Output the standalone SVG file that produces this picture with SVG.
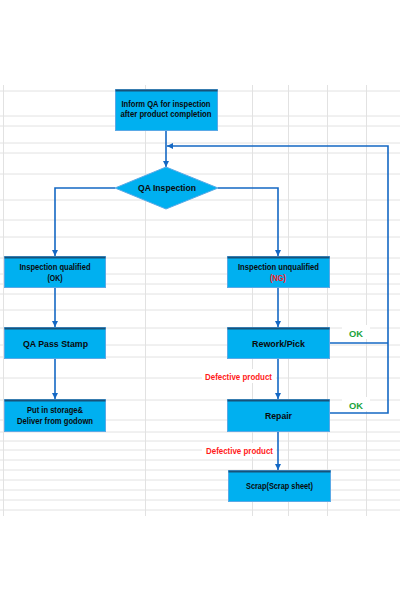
<svg xmlns="http://www.w3.org/2000/svg" width="400" height="600" viewBox="0 0 400 600">
<style>
.grid line{stroke:#e2e2e2;stroke-width:1}
.box{fill:#00b0f0;stroke:#5aa9e6;stroke-width:1}
.stripe{fill:#17527a}
.t{font-family:"Liberation Sans",Arial,sans-serif;font-size:8.5px;font-weight:bold;fill:#0a0a0a;text-anchor:middle}
.red{fill:#ff1a1a}
.green{fill:#1aa33a;font-size:9.5px}
.conn path{fill:none;stroke:#1468c4;stroke-width:1.6}
.mask{fill:#ffffff}
</style>
<defs>
<marker id="ah" markerUnits="userSpaceOnUse" markerWidth="6" markerHeight="6" viewBox="0 0 6 6" refX="6" refY="3" orient="auto">
<path d="M0,0 L6,3 L0,6 Z" fill="#1468c4"/>
</marker>
</defs>
<rect width="400" height="600" fill="#ffffff"/>
<g class="grid">
<line x1="0" y1="91" x2="400" y2="91"/><line x1="0" y1="116" x2="400" y2="116"/><line x1="0" y1="126" x2="400" y2="126"/>
<line x1="0" y1="143" x2="400" y2="143"/><line x1="0" y1="153" x2="400" y2="153"/><line x1="0" y1="174" x2="400" y2="174"/>
<line x1="0" y1="200" x2="400" y2="200"/><line x1="0" y1="220" x2="400" y2="220"/><line x1="0" y1="237" x2="400" y2="237"/>
<line x1="0" y1="258" x2="400" y2="258"/><line x1="0" y1="274" x2="400" y2="274"/><line x1="0" y1="284" x2="400" y2="284"/>
<line x1="0" y1="294" x2="400" y2="294"/><line x1="0" y1="310" x2="400" y2="310"/><line x1="0" y1="328" x2="400" y2="328"/>
<line x1="0" y1="345" x2="400" y2="345"/><line x1="0" y1="357" x2="400" y2="357"/><line x1="0" y1="378" x2="400" y2="378"/>
<line x1="0" y1="400" x2="400" y2="400"/><line x1="0" y1="420" x2="400" y2="420"/><line x1="0" y1="432" x2="400" y2="432"/>
<line x1="0" y1="441" x2="400" y2="441"/><line x1="0" y1="450" x2="400" y2="450"/><line x1="0" y1="460" x2="400" y2="460"/>
<line x1="0" y1="470" x2="400" y2="470"/><line x1="0" y1="480" x2="400" y2="480"/><line x1="0" y1="490" x2="400" y2="490"/>
<line x1="0" y1="500" x2="400" y2="500"/><line x1="0" y1="510" x2="400" y2="510"/>
<line x1="3.5" y1="85" x2="3.5" y2="516"/><line x1="145.5" y1="85" x2="145.5" y2="516"/><line x1="252.5" y1="85" x2="252.5" y2="516"/>
<line x1="288.5" y1="85" x2="288.5" y2="516"/><line x1="327.5" y1="85" x2="327.5" y2="516"/><line x1="366.5" y1="85" x2="366.5" y2="516"/>
</g>
<g id="labels-bg">
<rect class="mask" x="202" y="369" width="74" height="14"/>
<rect class="mask" x="202" y="443" width="74" height="14"/>
<rect class="mask" x="342" y="325" width="28" height="14"/>
<rect class="mask" x="342" y="397" width="28" height="14"/>
</g>
<g class="conn">
<path d="M166,130 V167" marker-end="url(#ah)"/>
<path d="M329,413 H388 V146 H167" marker-end="url(#ah)"/>
<path d="M329,343 H388"/>
<path d="M115,188 H55 V256" marker-end="url(#ah)"/>
<path d="M218,188 H278 V256" marker-end="url(#ah)"/>
<path d="M55,287 V327" marker-end="url(#ah)"/>
<path d="M55,358 V399" marker-end="url(#ah)"/>
<path d="M278,287 V327" marker-end="url(#ah)"/>
<path d="M278,358 V399" marker-end="url(#ah)"/>
<path d="M278,431 V470" marker-end="url(#ah)"/>
</g>
<g id="n-inform">
<rect class="box" x="115.5" y="89.5" width="102" height="41"/>
<rect class="stripe" x="115.5" y="89.5" width="102" height="2"/>
<text class="t" x="166" y="107" textLength="89" lengthAdjust="spacingAndGlyphs">Inform QA for inspection</text>
<text class="t" x="166" y="117" textLength="91" lengthAdjust="spacingAndGlyphs">after product completion</text>
</g>
<g id="n-qa">
<polygon points="166,167 218,188 166,209 115,188" fill="#00b0f0" stroke="#5aa9e6" stroke-width="1"/>
<text class="t" x="167" y="191" textLength="58" lengthAdjust="spacingAndGlyphs">QA Inspection</text>
</g>
<g id="n-qualified">
<rect class="box" x="4.5" y="256.5" width="101" height="31"/>
<rect class="stripe" x="4.5" y="256.5" width="101" height="2"/>
<text class="t" x="55" y="270" textLength="71" lengthAdjust="spacingAndGlyphs">Inspection qualified</text>
<text class="t" x="55" y="281" textLength="15" lengthAdjust="spacingAndGlyphs">(OK)</text>
</g>
<g id="n-stamp">
<rect class="box" x="4.5" y="327.5" width="101" height="31"/>
<rect class="stripe" x="4.5" y="327.5" width="101" height="2"/>
<text class="t" x="55.5" y="347" textLength="65" lengthAdjust="spacingAndGlyphs">QA Pass  Stamp</text>
</g>
<g id="n-storage">
<rect class="box" x="4.5" y="399.5" width="101" height="32"/>
<rect class="stripe" x="4.5" y="399.5" width="101" height="2"/>
<text class="t" x="55" y="413" textLength="56" lengthAdjust="spacingAndGlyphs">Put in storage&amp;</text>
<text class="t" x="55" y="423.5" textLength="76" lengthAdjust="spacingAndGlyphs">Deliver from godown</text>
</g>
<g id="n-unqualified">
<rect class="box" x="227.5" y="256.5" width="102" height="31"/>
<rect class="stripe" x="227.5" y="256.5" width="102" height="2"/>
<text class="t" x="278.5" y="270" textLength="81" lengthAdjust="spacingAndGlyphs">Inspection unqualified</text>
<text class="t red" x="278" y="281" textLength="16" lengthAdjust="spacingAndGlyphs">(NG)</text>
</g>
<g id="n-rework">
<rect class="box" x="227.5" y="327.5" width="102" height="31"/>
<rect class="stripe" x="227.5" y="327.5" width="102" height="2"/>
<text class="t" x="278.5" y="347" textLength="53" lengthAdjust="spacingAndGlyphs">Rework/Pick</text>
</g>
<g id="n-repair">
<rect class="box" x="227.5" y="399.5" width="102" height="32"/>
<rect class="stripe" x="227.5" y="399.5" width="102" height="2"/>
<text class="t" x="278.5" y="419" textLength="27" lengthAdjust="spacingAndGlyphs">Repair</text>
</g>
<g id="n-scrap">
<rect class="box" x="228.5" y="470.5" width="102" height="31"/>
<rect class="stripe" x="228.5" y="470.5" width="102" height="2"/>
<text class="t" x="279.5" y="489" textLength="67" lengthAdjust="spacingAndGlyphs">Scrap(Scrap sheet)</text>
</g>
<g id="edge-labels">
<text class="t green" x="356" y="336.5" textLength="14" lengthAdjust="spacingAndGlyphs">OK</text>
<text class="t green" x="356" y="408.5" textLength="14" lengthAdjust="spacingAndGlyphs">OK</text>
<text class="t red" x="238.5" y="380" textLength="67" lengthAdjust="spacingAndGlyphs">Defective  product</text>
<text class="t red" x="239.5" y="454" textLength="67" lengthAdjust="spacingAndGlyphs">Defective  product</text>
</g>
</svg>
